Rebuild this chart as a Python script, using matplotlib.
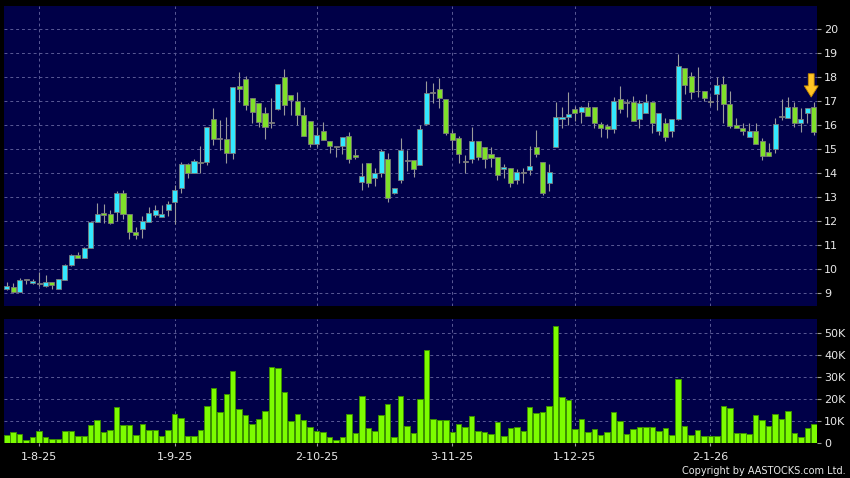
#!/usr/bin/env python3
"""Daily candlestick chart with volume panel, AASTOCKS style (Jul 2025 - Jan 2026)."""
import numpy as np
import matplotlib.pyplot as plt
from matplotlib.ticker import FuncFormatter

# --- data ---
opens = [9.15, 9.23, 9.03, 9.54, 9.40, 9.38, 9.29, 9.46, 9.15, 9.54,
         10.17, 10.58, 10.46, 10.88, 11.97, 12.33, 12.30, 12.37, 13.18, 12.30,
         11.53, 11.66, 11.95, 12.26, 12.16, 12.44, 12.79, 13.38, 14.36, 14.00,
         14.46, 14.44, 16.24, 15.40, 15.40, 14.82, 17.64, 17.92, 17.12, 16.91,
         16.49, 16.07, 16.66, 18.02, 17.25, 17.00, 16.40, 16.18, 15.19, 15.77,
         15.35, 15.10, 15.11, 15.53, 14.76, 13.60, 14.42, 13.77, 14.00, 14.59,
         13.18, 13.70, 14.50, 14.54, 14.35, 16.03, 17.33, 17.50, 17.08, 15.65,
         15.44, 14.44, 14.60, 15.35, 15.10, 14.80, 14.65, 14.15, 14.19, 13.70,
         14.00, 14.12, 15.07, 14.47, 13.59, 15.07, 16.24, 16.32, 16.66, 16.53,
         16.77, 16.77, 16.03, 15.96, 15.82, 17.10, 16.94, 16.98, 16.24, 16.49,
         16.98, 15.75, 16.07, 15.75, 16.24, 18.38, 18.06, 17.40, 17.40, 16.98,
         17.29, 17.72, 16.87, 15.99, 15.86, 15.49, 15.75, 15.33, 14.86, 14.98,
         16.32, 16.28, 16.74, 16.10, 16.49, 16.77]
highs = [9.44, 9.42, 9.62, 9.54, 9.58, 9.85, 9.72, 9.46, 9.58, 10.20,
         10.60, 10.70, 10.90, 12.00, 12.76, 12.69, 12.47, 13.24, 13.28, 12.30,
         11.74, 12.20, 12.58, 12.65, 12.64, 12.82, 13.49, 14.47, 14.40, 14.58,
         15.12, 15.90, 16.70, 16.20, 16.32, 17.58, 18.22, 18.03, 17.12, 16.91,
         16.74, 17.12, 17.70, 18.33, 17.25, 17.39, 16.74, 16.18, 15.93, 16.14,
         15.35, 15.10, 15.49, 15.72, 14.98, 14.40, 14.42, 14.19, 14.98, 14.82,
         13.39, 15.44, 14.96, 14.54, 16.00, 17.82, 17.75, 17.96, 17.08, 15.79,
         15.54, 14.75, 15.93, 15.35, 15.10, 15.10, 14.65, 14.37, 14.19, 14.17,
         14.19, 15.12, 15.79, 14.47, 14.37, 16.98, 16.77, 17.36, 16.80, 16.80,
         16.95, 16.77, 16.14, 16.03, 17.16, 17.64, 17.08, 17.22, 17.05, 17.30,
         16.98, 16.52, 16.28, 16.27, 18.98, 18.40, 18.20, 18.44, 17.40, 17.20,
         18.00, 18.03, 17.40, 16.28, 16.10, 16.10, 16.10, 15.44, 15.23, 16.28,
         17.08, 17.16, 16.98, 16.70, 16.70, 16.98]
lows = [9.09, 8.99, 9.03, 9.35, 9.35, 9.26, 9.23, 9.16, 9.14, 9.54,
        10.10, 10.43, 10.46, 10.88, 11.97, 11.90, 11.85, 11.98, 12.09, 11.25,
        11.25, 11.30, 11.95, 12.16, 12.16, 12.19, 11.88, 13.14, 13.77, 14.00,
        14.00, 14.33, 15.17, 14.97, 14.42, 14.56, 16.98, 16.63, 16.07, 15.90,
        15.40, 15.86, 16.63, 16.42, 16.42, 15.99, 15.53, 15.07, 15.10, 15.37,
        14.82, 14.65, 14.80, 14.40, 14.60, 13.30, 13.42, 13.45, 13.84, 12.79,
        13.10, 13.59, 14.10, 13.81, 14.35, 16.00, 16.90, 16.70, 15.57, 14.95,
        14.42, 13.98, 14.40, 14.54, 14.19, 14.26, 13.70, 13.77, 13.42, 13.53,
        13.56, 13.91, 14.68, 13.07, 13.24, 15.07, 15.86, 15.99, 16.18, 16.07,
        16.38, 15.86, 15.51, 15.47, 15.68, 16.49, 16.35, 16.18, 15.86, 16.49,
        15.65, 15.58, 15.35, 15.51, 16.20, 17.30, 17.10, 17.19, 17.02, 16.80,
        16.63, 16.07, 15.86, 15.86, 15.58, 15.49, 15.19, 14.54, 14.72, 14.82,
        16.21, 16.28, 15.93, 15.72, 16.10, 15.58]
closes = [9.28, 9.03, 9.54, 9.54, 9.48, 9.38, 9.45, 9.33, 9.56, 10.17,
          10.58, 10.46, 10.88, 11.97, 12.30, 12.26, 11.90, 13.18, 12.30, 11.53,
          11.40, 11.98, 12.34, 12.47, 12.30, 12.69, 13.27, 14.36, 13.98, 14.48,
          14.40, 15.90, 15.40, 15.40, 14.82, 17.58, 17.50, 16.83, 16.53, 16.14,
          15.90, 16.07, 17.70, 16.82, 17.05, 16.40, 15.53, 15.20, 15.60, 15.37,
          15.11, 15.10, 15.49, 14.60, 14.65, 13.87, 13.56, 14.00, 14.90, 12.94,
          13.39, 14.96, 14.50, 14.15, 15.82, 17.33, 17.33, 17.12, 15.65, 15.37,
          14.77, 14.44, 15.35, 14.68, 14.60, 14.63, 13.90, 14.23, 13.56, 14.05,
          14.00, 14.30, 14.77, 13.17, 14.05, 16.32, 16.32, 16.45, 16.52, 16.77,
          16.38, 16.07, 15.89, 15.82, 17.02, 16.66, 16.94, 16.18, 16.94, 16.98,
          16.07, 16.52, 15.49, 16.27, 18.47, 17.68, 17.37, 17.40, 17.12, 16.98,
          17.68, 16.87, 15.96, 15.86, 15.77, 15.75, 15.19, 14.70, 14.72, 16.03,
          16.32, 16.74, 16.10, 16.24, 16.70, 15.72]
volume_k = [3.9, 5.0, 4.4, 1.7, 3.0, 5.5, 3.0, 2.0, 1.8, 5.6,
            5.6, 3.3, 3.3, 8.5, 10.8, 5.2, 5.9, 16.5, 8.5, 8.5,
            3.6, 8.6, 5.9, 6.1, 3.3, 6.2, 13.5, 11.5, 3.3, 3.2,
            6.2, 17.0, 25.3, 14.1, 22.3, 32.9, 15.8, 13.0, 8.9, 11.2,
            14.8, 34.7, 34.4, 23.2, 10.2, 13.5, 10.6, 7.3, 5.6, 5.0,
            2.9, 1.4, 2.9, 13.3, 4.5, 21.4, 7.1, 5.5, 12.7, 17.7,
            2.7, 21.7, 8.0, 4.5, 20.3, 42.3, 10.9, 10.5, 10.5, 5.3,
            8.6, 7.4, 12.6, 5.8, 5.2, 4.4, 9.5, 3.2, 7.1, 7.3,
            5.5, 16.4, 13.9, 14.2, 17.0, 53.3, 21.1, 19.5, 6.7, 10.9,
            5.0, 6.7, 3.8, 5.2, 14.4, 10.3, 4.4, 6.4, 7.6, 7.4,
            7.6, 5.5, 7.1, 3.8, 29.4, 7.7, 3.8, 5.9, 3.3, 3.5,
            3.3, 16.8, 16.2, 4.8, 4.5, 4.1, 12.9, 10.5, 7.7, 13.3,
            11.2, 14.8, 4.8, 2.7, 6.8, 8.9]
date_labels = ["1-8-25", "1-9-25", "2-10-25", "3-11-25", "1-12-25", "2-1-26"]
date_pos = [5, 26, 48, 69, 88, 109]
price_ticks = list(range(9, 21))
vol_ticks = [0, 10, 20, 30, 40, 50]

o = np.array(opens); h = np.array(highs); l = np.array(lows); c = np.array(closes)
v = np.array(volume_k)
x = np.arange(len(o))

BG = "#000048"
UP = "#33E8FF"
DN = "#7FE02A"
GRID = "#5a5a96"
TXT = "#E8E8E8"

fig = plt.figure(figsize=(8.5, 4.78), dpi=100, facecolor="black")
axP = fig.add_axes([0.0047, 0.3598, 0.9565, 0.6276], facecolor=BG)
axV = fig.add_axes([0.0047, 0.0726, 0.9565, 0.2594], facecolor=BG, sharex=axP)

# price panel: wicks then bodies
axP.vlines(x, l, h, color="#9a9a9a", lw=0.8, zorder=2)
cols = np.where(c > o, UP, np.where(c < o, DN, "#9a9a9a"))
body_lo = np.minimum(o, c)
body_h = np.maximum(np.abs(c - o), 0.04)
axP.bar(x, body_h, bottom=body_lo, width=0.78, color=cols, edgecolor="#7a7a7a",
        lw=0.6, zorder=3)

# marker arrow over the latest bar
axP.annotate("", xy=(x[-1] - 0.4, h[-1] + 0.19), xytext=(x[-1] - 0.4, h[-1] + 1.16),
             arrowprops=dict(arrowstyle="simple,head_width=1.0,head_length=0.8,tail_width=0.42",
                             fc="#FFC425", ec="#C88A00", lw=0.6,
                             shrinkA=0, shrinkB=0), zorder=5)

axP.set_ylim(8.44, 20.97)
axP.set_yticks(price_ticks)
axP.yaxis.tick_right()
axP.tick_params(axis="y", colors="#9a9a9a", labelcolor=TXT, labelsize=8, length=3, pad=2)
axP.tick_params(axis="x", bottom=False, labelbottom=False)
axP.grid(True, color=GRID, ls=(0, (3, 3)), lw=0.7)

# volume panel
axV.bar(x, v, width=0.85, color="#7CFC00", edgecolor="#3c9000", lw=0.7, zorder=3)
axV.set_ylim(0, 56.4)
axV.set_yticks(vol_ticks)
axV.yaxis.tick_right()
axV.yaxis.set_major_formatter(FuncFormatter(lambda val, _: "0" if val == 0 else f"{val:.0f}K"))
axV.tick_params(axis="y", colors="#9a9a9a", labelcolor=TXT, labelsize=8, length=3, pad=2)
axV.set_xticks(date_pos)
axV.set_xticklabels(date_labels)
axV.tick_params(axis="x", colors="#9a9a9a", labelcolor=TXT, labelsize=8, length=2, pad=4)
axV.grid(True, color=GRID, ls=(0, (3, 3)), lw=0.7)
axV.set_xlim(-0.43, 125.5)

for ax in (axP, axV):
    for s in ax.spines.values():
        s.set_visible(False)
    ax.set_axisbelow(True)

fig.text(0.995, 0.015, "Copyright by AASTOCKS.com Ltd.", color=TXT, fontsize=7,
         ha="right", va="center")

fig.savefig("out.png", dpi=100, facecolor="black")
